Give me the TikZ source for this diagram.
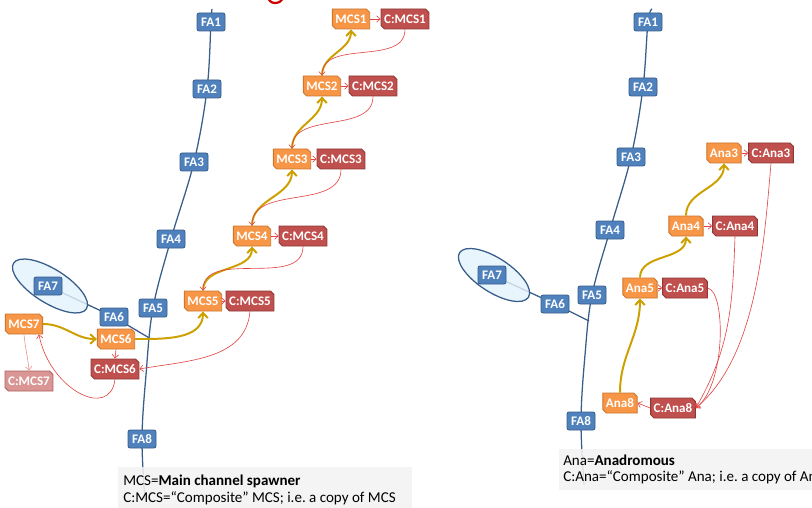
\documentclass[tikz,border=0pt]{standalone}
\usepackage{fontspec}
\setmainfont{Carlito}
\usetikzlibrary{shapes.misc, arrows.meta, backgrounds}

\definecolor{fablue}{RGB}{79,129,189}
\definecolor{fadark}{RGB}{56,93,138}
\definecolor{spawnfill}{RGB}{247,150,70}
\definecolor{spawnedge}{RGB}{205,118,45}
\definecolor{copyfill}{RGB}{192,80,77}
\definecolor{copyedge}{RGB}{140,56,54}
\definecolor{fadefill}{RGB}{217,150,148}
\definecolor{fadeedge}{RGB}{175,95,95}
\definecolor{growgold}{RGB}{205,160,0}
\definecolor{linkred}{RGB}{225,70,70}
\definecolor{fadelink}{RGB}{236,150,150}
\definecolor{poolfill}{RGB}{228,243,253}
\definecolor{keygray}{RGB}{242,242,242}

\tikzset{
  fa/.style={draw=fadark, fill=fablue, line width=0.6pt, rounded corners=1.5pt,
    text=white, font=\fontsize{9.3}{10}\selectfont\bfseries,
    minimum width=7mm, minimum height=4.5mm, inner sep=1pt},
  snip/.style={chamfered rectangle, chamfered rectangle corners={north east,south west},
    chamfered rectangle xsep=1.2pt, chamfered rectangle ysep=1.2pt,
    line width=0.6pt, text=white, font=\fontsize{9.3}{10}\selectfont\bfseries,
    minimum height=5mm, inner xsep=1pt, inner ysep=1pt},
  spawner/.style={snip, draw=spawnedge, fill=spawnfill},
  composite/.style={snip, draw=copyedge, fill=copyfill},
  faded/.style={snip, draw=fadeedge, fill=fadefill},
  channel/.style={draw=fadark, line width=0.9pt},
  upstream/.style={draw=growgold, line width=1.4pt, -{Straight Barb[length=1.3mm,width=2.4mm]}},
  copylink/.style={draw=linkred, line width=0.45pt, -{Straight Barb[length=0.9mm,width=1.6mm]}},
  keytext/.style={anchor=west, inner sep=0pt, font=\fontsize{10.7}{12}\selectfont}
}

\begin{document}
\frenchspacing
\begin{tikzpicture}[x=0.25mm, y=-0.25mm]
\useasboundingbox (0,0) rectangle (812,508);

% tail of the red heading above
\draw[red!80!black, line width=1.6pt] (268,-3) to[out=-80,in=180] (275,3) to[out=0,in=-100] (283,-3);

% ---------------- left: main channel spawners ----------------
\draw[channel, fill=poolfill, fill opacity=0.8, rotate around={-32:(50,286)}] (50,286) ellipse (43 and 17);

\node[fa] (FA1) at (211,22) {FA1};
\node[fa] (FA2) at (207,89) {FA2};
\node[fa] (FA3) at (194,162) {FA3};
\node[fa] (FA4) at (171,239) {FA4};
\node[fa] (FA5) at (153,308) {FA5};
\node[fa] (FA6) at (114,317) {FA6};
\node[fa] (FA7) at (48,286) {FA7};
\node[fa] (FA8) at (142,439) {FA8};
\coordinate (topL) at (212,9);
\coordinate (bendL) at (146,375);
\coordinate (botL) at (145,500);
\coordinate (joinL) at (151,339);

\node[spawner] (M1) at (351,19) {MCS1};
\node[spawner] (M2) at (322,86) {MCS2};
\node[spawner] (M3) at (292,159) {MCS3};
\node[spawner] (M4) at (252,236) {MCS4};
\node[spawner] (M5) at (203,301) {MCS5};
\node[spawner] (M6) at (116,339) {MCS6};
\node[spawner] (M7) at (24,324) {MCS7};
\node[composite] (cM1) at (405,19) {C:MCS1};
\node[composite] (cM2) at (373,86) {C:MCS2};
\node[composite] (cM3) at (341,159) {C:MCS3};
\node[composite] (cM4) at (303,236) {C:MCS4};
\node[composite] (cM5) at (250,301) {C:MCS5};
\node[composite] (cM6) at (115,369) {C:MCS6};
\node[faded] (cM7) at (29,381) {C:MCS7};

% ---------------- right: anadromous ----------------
\draw[channel, fill=poolfill, fill opacity=0.8, rotate around={-33:(494,275)}] (494,275) ellipse (41 and 17);

\node[fa] (RA1) at (648,22) {FA1};
\node[fa] (RA2) at (643,87) {FA2};
\node[fa] (RA3) at (631,157) {FA3};
\node[fa] (RA4) at (610,230) {FA4};
\node[fa] (RA5) at (592,295) {FA5};
\node[fa] (RA6) at (555,304) {FA6};
\node[fa] (RA7) at (492,275) {FA7};
\node[fa] (RA8) at (581,421) {FA8};
\coordinate (topR) at (652,9);
\coordinate (bendR) at (585,355);
\coordinate (botR) at (584,485);
\coordinate (joinR) at (589,321);

\node[spawner] (A3) at (724,153) {Ana3};
\node[spawner] (A4) at (686,226) {Ana4};
\node[spawner] (A5) at (640,288) {Ana5};
\node[spawner] (A8) at (620,403) {Ana8};
\node[composite] (cA3) at (771,153) {C:Ana3};
\node[composite] (cA4) at (735,226) {C:Ana4};
\node[composite] (cA5) at (685,288) {C:Ana5};
\node[composite] (cA8) at (673,408) {C:Ana8};

% channels under everything
\begin{scope}[on background layer]
  \draw[channel] plot[smooth, tension=0.6] coordinates {(topL) (FA1.center) (FA2.center) (FA3.center) (FA4.center) (FA5.center) (bendL) (FA8.center) (botL)};
  \draw[channel] (FA7.center) -- (FA6.center) -- (joinL);
  \draw[channel] plot[smooth, tension=0.6] coordinates {(topR) (RA1.center) (RA2.center) (RA3.center) (RA4.center) (RA5.center) (bendR) (RA8.center) (botR)};
  \draw[channel] (RA7.center) -- (RA6.center) -- (joinR);
\end{scope}

% spawners feeding upstream
\draw[upstream] (M2.north) to[out=90,in=-90] (M1.south);
\draw[upstream] (M3.north) to[out=90,in=-90] (M2.south);
\draw[upstream] (M4.north) to[out=90,in=-90] (M3.south);
\draw[upstream] (M5.north) to[out=90,in=-90] (M4.south);
\draw[upstream] (M6.east) to[out=0,in=-90] (M5.south);
\draw[upstream] (M7.east) to[out=0,in=180] (M6.west);

% composites
\foreach \i in {1,...,5}{
  \draw[copylink] (M\i.east) -- (cM\i.west);
}
\draw[copylink] (cM1.south) to[out=-90,in=90] (M2.north);
\draw[copylink] (cM2.south) to[out=-90,in=90] (M3.north);
\draw[copylink] (cM3.south) to[out=-90,in=90] (M4.north);
\draw[copylink] (cM4.south) to[out=-90,in=90] (M5.north);
\draw[copylink] (cM5.south) to[out=-95,in=10] (cM6.east);
\draw[copylink] (M6.south) -- (cM6.north);
\draw[copylink] (cM6.south) .. controls (110,420) and (50,390) .. (M7.-35);
\draw[copylink, draw=fadelink] (M7.south) to[out=-85,in=95] (cM7.north);

% anadromous
\draw[upstream] (A4.north) to[out=90,in=-90] (A3.south);
\draw[upstream] (A5.north) to[out=90,in=-90] (A4.south);
\draw[upstream] (A8.north) to[out=90,in=-90] (A5.south);
\foreach \i in {3,4,5}{
  \draw[copylink] (A\i.east) -- (cA\i.west);
}
\draw[copylink] (cA3.south) to[out=-95,in=40,looseness=0.8] (cA8.east);
\draw[copylink] (cA4.south) to[out=-92,in=60] (cA8.east);
\draw[copylink] (cA5.east) .. controls (726,292) and (726,385) .. (cA8.east);
\draw[copylink] (cA8.west) -- (A8.east);

% keys
\fill[keygray, fill opacity=0.88] (118,467) rectangle (412,510);
\node[keytext] (keyM) at (123,481) {MCS=\textbf{Main channel spawner}};
\node[keytext] (keyCM) at (123,498) {C:MCS=“Composite” MCS; i.e. a copy of MCS};
\fill[keygray, fill opacity=0.88] (559,449) rectangle (815,490);
\node[keytext] (keyA) at (563,460) {Ana=\textbf{Anadromous}};
\node[keytext] (keyCA) at (563,477) {C:Ana=“Composite” Ana; i.e. a copy of Ana};
\end{tikzpicture}
\end{document}
